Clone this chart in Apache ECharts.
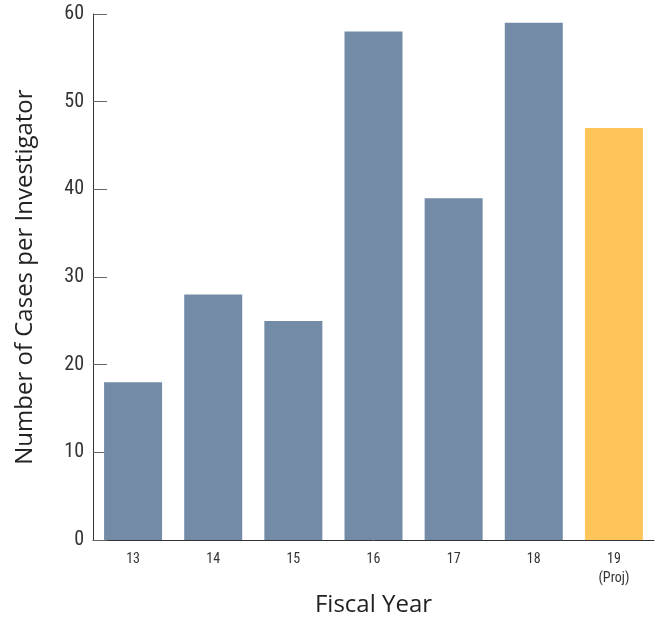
<!DOCTYPE html>
<html><head><meta charset="utf-8">
<script src="https://cdn.jsdelivr.net/npm/echarts@6/dist/echarts.min.js"></script>
<style>html,body{margin:0;padding:0;background:#fff}#c{width:658px;height:622px}</style>
</head><body><div id="c"></div>
<script>
const categories = ['13','14','15','16','17','18','19\n(Proj)'];
const values = [18, 28, 25, 58, 39, 59, 47];
const yTicks = [0, 10, 20, 30, 40, 50, 60];
const barColors = ['#738ba6','#738ba6','#738ba6','#738ba6','#738ba6','#738ba6','#ffc55a'];

const chart = echarts.init(document.getElementById('c'));
chart.setOption({
  animation: false,
  grid: {left: 93, right: 4, top: 14, bottom: 78},
  xAxis: {
    type: 'category',
    data: categories,
    name: 'Fiscal Year',
    nameLocation: 'middle',
    nameGap: 50,
    nameTextStyle: {fontFamily: 'Open Sans', fontSize: 24, fontWeight: 500, color: '#222'},
    axisLine: {lineStyle: {color: '#333', width: 1}},
    axisTick: {inside: true, length: 12, lineStyle: {color: '#333'}},
    axisLabel: {fontFamily: '"Liberation Sans Narrow", "Roboto Condensed", Roboto', fontSize: 14, color: '#333', margin: 10, lineHeight: 19}
  },
  yAxis: {
    type: 'value',
    min: yTicks[0], max: yTicks[yTicks.length-1], interval: 10,
    name: 'Number of Cases per Investigator',
    nameLocation: 'middle',
    nameGap: 56,
    nameTextStyle: {fontFamily: 'Open Sans', fontSize: 24, fontWeight: 500, color: '#222'},
    axisLine: {show: true, lineStyle: {color: '#333', width: 1}},
    axisTick: {show: true, inside: true, length: 14, lineStyle: {color: '#666'}},
    splitLine: {show: false},
    axisLabel: {fontFamily: '"Liberation Sans Narrow", "Roboto Condensed", Roboto', fontSize: 20, color: '#333', margin: 9}
  },
  series: [{
    type: 'bar',
    data: values.map((v, i) => ({value: v, itemStyle: {color: barColors[i]}})),
    barWidth: 58
  }]
});
</script></body></html>
